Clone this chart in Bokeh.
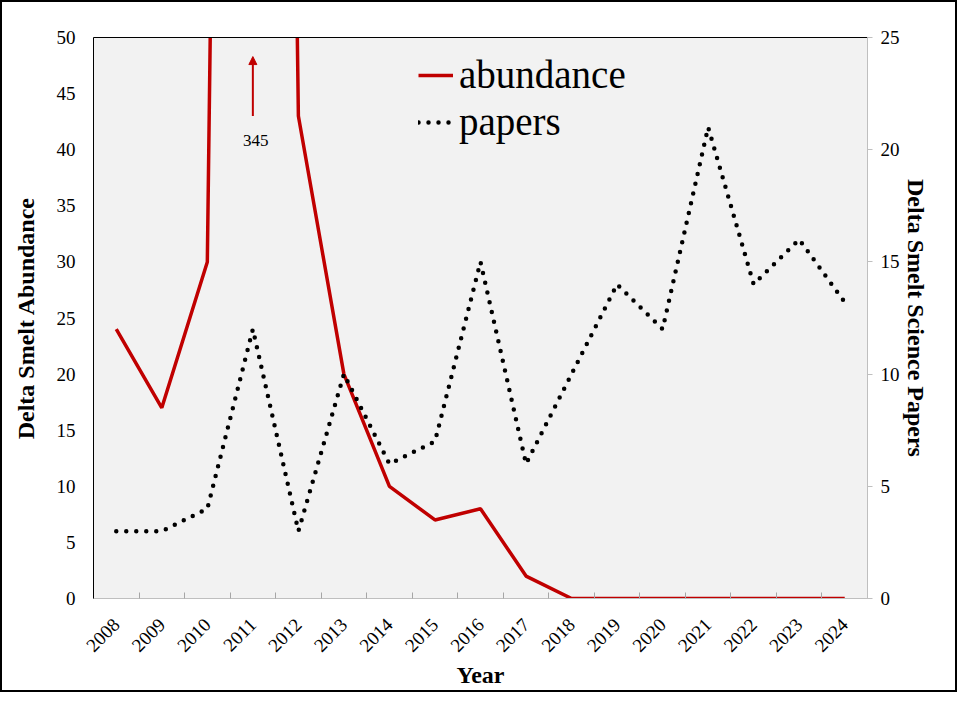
import math

from bokeh.plotting import figure
from bokeh.models import (Range1d, LinearAxis, FixedTicker, SingleIntervalTicker,
                          Legend, LegendItem, Arrow, NormalHead, Label)
from bokeh.embed import file_html
from bokeh.resources import INLINE

# Data
years = [2008, 2009, 2010, 2011, 2012, 2013, 2014, 2015, 2016,
         2017, 2018, 2019, 2020, 2021, 2022, 2023, 2024]
abundance = [24, 17, 30, 345, 43, 20, 10, 7, 8, 2, 0, 0, 0, 0, 0, 0, 0]
papers = [3, 3, 4, 12, 3, 10, 6, 7, 15, 6, 10, 14, 12, 21, 14, 16, 13.2]

FONT = "Liberation Serif"
RED = "#c00000"
GREY = "#bfbfbf"

p = figure(frame_width=774, frame_height=561,
           x_range=Range1d(years[0] - 0.5, years[-1] + 0.5),
           y_range=Range1d(0, 50),
           min_border_left=91, min_border_right=88,
           min_border_top=35, min_border_bottom=91,
           background_fill_color="#f2f2f2", border_fill_color="white",
           outline_line_color=None,
           output_backend="svg", toolbar_location=None,
           styles={"border": "2px solid black"})
p.extra_y_ranges = {"papers": Range1d(0, 25)}
p.xgrid.visible = False
p.ygrid.visible = False

# Lines
r_ab = p.line(years, abundance, line_color=RED, line_width=3.5)
r_pa = p.line(years, papers, y_range_name="papers", line_color="black",
              line_width=4.5, line_dash="0 10", line_cap="round")

# Bottom axis: labels at year centres, small tick marks between years
edges = [y - 0.5 for y in years] + [years[-1] + 0.5]
xa = p.below[0]
xa.ticker = FixedTicker(ticks=years, minor_ticks=edges)
xa.major_tick_in = 0
xa.major_tick_out = 0
xa.minor_tick_in = 6
xa.minor_tick_out = 0
xa.minor_tick_line_color = "#a6a6a6"
xa.axis_line_color = GREY
xa.major_label_orientation = math.pi / 4
xa.major_label_text_font = FONT
xa.major_label_text_font_size = "19px"
xa.major_label_text_color = "black"
xa.major_label_standoff = 23
xa.axis_label = "Year"
xa.axis_label_text_font = FONT
xa.axis_label_text_font_size = "24px"
xa.axis_label_text_font_style = "bold"
xa.axis_label_text_color = "black"
xa.axis_label_standoff = 1

# Left axis
ya = p.left[0]
ya.ticker = SingleIntervalTicker(interval=5, num_minor_ticks=0)
ya.axis_line_color = "black"
ya.major_tick_in = 0
ya.major_tick_out = 0
ya.minor_tick_in = 0
ya.minor_tick_out = 0
ya.major_label_text_font = FONT
ya.major_label_text_font_size = "19px"
ya.major_label_text_color = "black"
ya.major_label_standoff = 18
ya.axis_label = "Delta Smelt Abundance"
ya.axis_label_text_font = FONT
ya.axis_label_text_font_size = "24px"
ya.axis_label_text_font_style = "bold"
ya.axis_label_text_color = "black"
ya.axis_label_standoff = 15

# Right axis
ra = LinearAxis(y_range_name="papers",
                ticker=SingleIntervalTicker(interval=5, num_minor_ticks=0),
                axis_line_color=GREY, major_tick_in=0, major_tick_out=5,
                major_tick_line_color=GREY, minor_tick_in=0, minor_tick_out=0,
                major_label_text_font=FONT, major_label_text_font_size="19px",
                major_label_text_color="black", major_label_standoff=8,
                axis_label="Delta Smelt Science Papers", axis_label_text_font=FONT,
                axis_label_text_font_size="24px", axis_label_text_font_style="bold",
                axis_label_text_color="black", axis_label_standoff=0)
p.add_layout(ra, "right")

# Top border line
ta = LinearAxis(ticker=FixedTicker(ticks=[]), axis_line_color="black",
                major_tick_in=0, major_tick_out=0, minor_tick_in=0, minor_tick_out=0,
                major_label_text_font_size="0px")
p.add_layout(ta, "above")

# Arrow showing the off-scale 2011 value
p.add_layout(Arrow(end=NormalHead(size=8, fill_color=RED, line_color=RED),
                   x_start=years[3], y_start=43, x_end=years[3], y_end=48.3,
                   line_color=RED, line_width=2))
p.add_layout(Label(x=years[3], y=40.8, text=str(abundance[3]), x_offset=3,
                   text_font=FONT, text_font_size="17px", text_color="black",
                   text_align="center", text_baseline="middle"))

legend = Legend(items=[LegendItem(label="abundance", renderers=[r_ab]),
                       LegendItem(label="papers", renderers=[r_pa])],
                location=(325, 454), background_fill_alpha=0, border_line_color=None,
                label_text_font=FONT, label_text_font_size="39px",
                label_text_color="black",
                glyph_width=35, glyph_height=40, label_height=40, spacing=2,
                padding=0, margin=0, label_standoff=6)
p.add_layout(legend)

open("out.html", "w").write(file_html(p, INLINE))
